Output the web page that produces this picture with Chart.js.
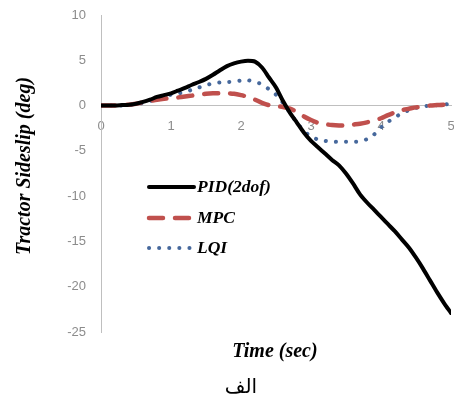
<!DOCTYPE html>
<html>
<head>
<meta charset="utf-8">
<script src="https://cdn.jsdelivr.net/npm/chart.js@4.4.1/dist/chart.umd.min.js"></script>
<style>
  html, body { margin: 0; padding: 0; background: #fff; }
  #wrap { width: 454px; height: 403px; }
</style>
</head>
<body>
<div id="wrap"><canvas id="out" width="454" height="403"></canvas></div>
<script>
// time axis (sec)
const times = [0, 0.1, 0.2, 0.3, 0.4, 0.5, 0.6, 0.7, 0.8, 0.9,
  1.0, 1.1, 1.2, 1.3, 1.4, 1.5, 1.6, 1.7, 1.8, 1.9,
  2.0, 2.1, 2.2, 2.3, 2.4, 2.5, 2.6, 2.7, 2.8, 2.9,
  3.0, 3.1, 3.2, 3.3, 3.4, 3.5, 3.6, 3.7, 3.8, 3.9,
  4.0, 4.1, 4.2, 4.3, 4.4, 4.5, 4.6, 4.7, 4.8, 4.9, 5.0];

// tractor sideslip (deg)
const pid = [0, 0, 0, 0.05, 0.1, 0.2, 0.4, 0.65, 0.95, 1.15,
  1.35, 1.65, 1.95, 2.3, 2.6, 2.95, 3.4, 3.9, 4.35, 4.65,
  4.85, 4.95, 4.85, 4.2, 3.1, 2.0, 0.5, -0.8, -1.9, -3.0,
  -3.9, -4.6, -5.3, -6.0, -6.6, -7.5, -8.6, -9.8, -10.7, -11.5,
  -12.3, -13.1, -13.9, -14.8, -15.7, -16.8, -18.0, -19.3, -20.6, -21.8, -22.9];

const mpc = [0, 0, 0, 0.05, 0.1, 0.2, 0.35, 0.5, 0.65, 0.75,
  0.8, 0.9, 1.0, 1.1, 1.2, 1.3, 1.35, 1.35, 1.35, 1.3,
  1.15, 0.95, 0.65, 0.3, 0.05, -0.05, -0.15, -0.35, -0.7, -1.2,
  -1.6, -1.9, -2.05, -2.15, -2.2, -2.2, -2.1, -2.0, -1.85, -1.65,
  -1.4, -1.05, -0.75, -0.5, -0.35, -0.2, -0.1, 0, 0.05, 0.1, 0.2];

const lqi = [0, 0, 0, 0, 0.05, 0.15, 0.3, 0.5, 0.75, 1.0,
  1.2, 1.35, 1.5, 1.75, 2.0, 2.25, 2.45, 2.55, 2.6, 2.65,
  2.75, 2.8, 2.6, 2.35, 1.8, 1.2, 0.3, -0.8, -1.9, -2.8,
  -3.4, -3.75, -3.9, -4.0, -4.0, -4.0, -4.0, -3.95, -3.7, -3.2,
  -2.4, -1.8, -1.3, -0.85, -0.5, -0.25, -0.1, 0, 0.05, 0.1, 0.2];

const seriesNames = ['PID(2dof)', 'MPC', 'LQI'];
const yTitle = 'Tractor Sideslip (deg)';
const xTitle = 'Time (sec)';
const caption = 'الف';

const toPoints = vals => times.map((t, i) => ({ x: t, y: vals[i] }));

// legend + axis titles, drawn by hand like the Excel original
const textPlugin = {
  id: 'textPlugin',
  afterDraw(chart) {
    const ctx = chart.ctx;
    ctx.save();
    ctx.fillStyle = '#000';
    ctx.textBaseline = 'middle';

    // y title
    ctx.font = 'italic bold 20px "Liberation Serif"';
    ctx.textAlign = 'center';
    ctx.save();
    ctx.translate(25, 166);
    ctx.rotate(-Math.PI / 2);
    ctx.fillText(yTitle, 0, 0);
    ctx.restore();

    // x title
    ctx.fillText(xTitle, 275, 352);

    // caption
    ctx.font = '20px "DejaVu Sans"';
    ctx.fillText(caption, 241, 388);

    // legend
    const rows = [187, 218, 248];
    chart.data.datasets.forEach((ds, i) => {
      const y = rows[i];
      ctx.save();
      ctx.strokeStyle = ds.borderColor;
      ctx.lineWidth = ds.borderWidth;
      ctx.lineCap = ds.borderCapStyle || 'butt';
      ctx.setLineDash(ds.borderDash || []);
      ctx.beginPath();
      ctx.moveTo(149, y);
      ctx.lineTo(194, y);
      ctx.stroke();
      ctx.restore();
      ctx.font = 'italic bold 17.5px "Liberation Serif"';
      ctx.textAlign = 'left';
      ctx.fillText(ds.label, 197, y);
    });
    ctx.restore();
  }
};

const tickColor = '#8c8c8c';
const axisColor = '#bfbfbf';

const chartConfig = {
  type: 'line',
  data: {
    datasets: [
      {
        label: seriesNames[0],
        data: toPoints(pid),
        borderColor: '#000000',
        borderWidth: 4,
        borderCapStyle: 'round',
        tension: 0.3
      },
      {
        label: seriesNames[1],
        data: toPoints(mpc),
        borderColor: '#c0504d',
        borderWidth: 4.5,
        borderDash: [14, 12],
        borderCapStyle: 'round',
        tension: 0.3
      },
      {
        label: seriesNames[2],
        data: toPoints(lqi),
        borderColor: '#46689c',
        borderWidth: 4,
        borderDash: [0.1, 10],
        borderCapStyle: 'round',
        tension: 0.3
      }
    ]
  },
  options: {
    responsive: false,
    animation: false,
    layout: { padding: { top: 15, right: 3, bottom: 71, left: 0 } },
    elements: { point: { radius: 0 } },
    plugins: {
      legend: { display: false },
      tooltip: { enabled: false }
    },
    scales: {
      x: {
        type: 'linear',
        position: { y: 0 },
        min: 0,
        max: 5,
        grid: { display: false, drawTicks: false },
        border: { display: true, color: axisColor, width: 1 },
        ticks: {
          stepSize: 1,
          padding: 13,
          color: tickColor,
          font: { family: 'Liberation Sans', size: 13 }
        },
        afterFit(scale) { scale.paddingLeft = 0; scale.paddingRight = 0; }
      },
      y: {
        min: -25,
        max: 10,
        grid: { display: false, drawTicks: false },
        border: { display: true, color: axisColor, width: 1 },
        ticks: {
          stepSize: 5,
          padding: 15,
          color: tickColor,
          font: { family: 'Liberation Sans', size: 13 }
        },
        afterFit(scale) {
          scale.width = 101;
          scale.paddingTop = 0;
          scale.paddingBottom = 0;
        }
      }
    }
  },
  plugins: [textPlugin]
};

const canvasCtx = document.getElementById('out').getContext('2d');
window.chart = new Chart(canvasCtx, chartConfig);
</script>
</body>
</html>
